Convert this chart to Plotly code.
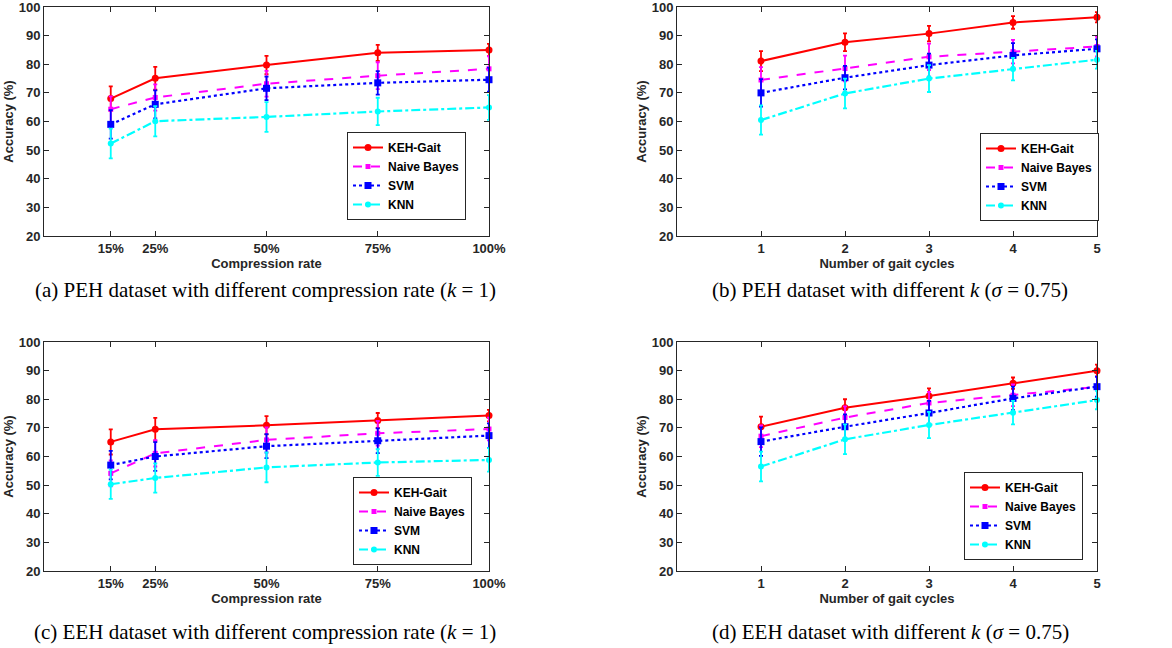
import plotly.graph_objects as go

# ---------------- data ----------------
rate_x = [15, 25, 50, 75, 100]
rate_labels = ["15%", "25%", "50%", "75%", "100%"]
cycles_x = [1, 2, 3, 4, 5]
cycles_labels = ["1", "2", "3", "4", "5"]
y_ticks = [20, 30, 40, 50, 60, 70, 80, 90, 100]

series_names = ["KEH-Gait", "Naive Bayes", "SVM", "KNN"]

# (a) PEH, compression rate
a_keh = [68.0, 75.1, 79.7, 84.0, 85.0]
a_keh_err = [4.3, 4.0, 3.2, 2.8, 2.1]
a_nb = [64.3, 68.4, 73.2, 76.0, 78.4]
a_nb_err = [4.5, 4.6, 4.5, 4.7, 4.4]
a_svm = [59.0, 66.0, 71.6, 73.5, 74.6]
a_svm_err = [5.0, 4.9, 4.1, 4.1, 4.2]
a_knn = [52.3, 60.1, 61.6, 63.5, 64.9]
a_knn_err = [5.2, 5.3, 5.2, 4.8, 4.3]

# (b) PEH, gait cycles
b_keh = [81.1, 87.7, 90.7, 94.6, 96.4]
b_keh_err = [3.5, 3.1, 2.7, 2.2, 1.8]
b_nb = [74.5, 78.5, 82.6, 84.4, 86.2]
b_nb_err = [4.5, 4.5, 4.6, 4.1, 3.5]
b_svm = [70.0, 75.3, 79.7, 83.1, 85.4]
b_svm_err = [4.8, 4.1, 4.0, 4.3, 3.3]
b_knn = [60.5, 69.8, 75.0, 78.3, 81.6]
b_knn_err = [5.1, 5.2, 4.7, 3.9, 3.1]

# (c) EEH, compression rate
c_keh = [65.1, 69.5, 70.9, 72.6, 74.3]
c_keh_err = [4.4, 4.0, 3.2, 2.6, 2.0]
c_nb = [54.1, 61.1, 65.8, 68.1, 69.6]
c_nb_err = [4.5, 4.6, 4.4, 4.3, 4.0]
c_svm = [57.0, 60.0, 63.6, 65.5, 67.3]
c_svm_err = [5.0, 5.0, 4.2, 4.3, 4.3]
c_knn = [50.3, 52.5, 56.2, 57.9, 58.8]
c_knn_err = [5.1, 5.1, 5.2, 4.7, 4.1]

# (d) EEH, gait cycles
d_keh = [70.4, 77.0, 81.1, 85.6, 90.0]
d_keh_err = [3.5, 3.0, 2.7, 2.0, 2.1]
d_nb = [67.1, 73.6, 78.7, 81.4, 84.3]
d_nb_err = [3.8, 3.9, 3.9, 3.8, 3.6]
d_svm = [65.2, 70.4, 75.2, 80.3, 84.4]
d_svm_err = [5.0, 4.3, 4.2, 4.1, 3.5]
d_knn = [56.5, 66.0, 71.0, 75.3, 79.7]
d_knn_err = [5.2, 5.2, 4.6, 4.1, 3.2]

captions = [
    "(a) PEH dataset with different compression rate (<i>k</i> = 1)",
    "(b) PEH dataset with different <i>k</i> (<i>σ</i> = 0.75)",
    "(c) EEH dataset with different compression rate (<i>k</i> = 1)",
    "(d) EEH dataset with different <i>k</i> (<i>σ</i> = 0.75)",
]

# ---------------- styling ----------------
W, H = 1172, 648
colors = ["#ff0000", "#ff00ff", "#0000ff", "#00ffff"]
dashes = ["solid", "dash", "dot", "dashdot"]
symbols = ["circle", "square", "square", "circle"]
msizes = [7, 5, 7, 6]
AX = "#262626"
SANS = "Liberation Sans, Arial, sans-serif"
SERIF = "Liberation Serif, Times New Roman, serif"

def px_x(p):
    return p / W

def px_y(p):
    return 1 - p / H

panels = [
    dict(x=rate_x, tv=rate_x, tt=rate_labels, xr=[0, 100], title="Compression rate",
         data=[(a_keh, a_keh_err), (a_nb, a_nb_err), (a_svm, a_svm_err), (a_knn, a_knn_err)],
         xd=(44, 489), yd=(7, 236), leg=(466, 176), cap=(265, 290)),
    dict(x=cycles_x, tv=cycles_x, tt=cycles_labels, xr=[0, 5], title="Number of gait cycles",
         data=[(b_keh, b_keh_err), (b_nb, b_nb_err), (b_svm, b_svm_err), (b_knn, b_knn_err)],
         xd=(677, 1097), yd=(7, 236), leg=(1099, 177), cap=(890, 290)),
    dict(x=rate_x, tv=rate_x, tt=rate_labels, xr=[0, 100], title="Compression rate",
         data=[(c_keh, c_keh_err), (c_nb, c_nb_err), (c_svm, c_svm_err), (c_knn, c_knn_err)],
         xd=(44, 489), yd=(342, 571), leg=(472, 521), cap=(265, 632)),
    dict(x=cycles_x, tv=cycles_x, tt=cycles_labels, xr=[0, 5], title="Number of gait cycles",
         data=[(d_keh, d_keh_err), (d_nb, d_nb_err), (d_svm, d_svm_err), (d_knn, d_knn_err)],
         xd=(677, 1097), yd=(342, 571), leg=(1083, 516), cap=(890, 632)),
]

fig = go.Figure()
layout = dict(
    width=W, height=H, margin=dict(l=0, r=0, t=0, b=0, autoexpand=False),
    paper_bgcolor="white", plot_bgcolor="white", showlegend=True,
    annotations=[],
)

for i, p in enumerate(panels):
    n = "" if i == 0 else str(i + 1)
    xa, ya = "x" + n, "y" + n
    legname = "legend" + n
    for j, (vals, errs) in enumerate(p["data"]):
        fig.add_trace(go.Scatter(
            x=p["x"], y=vals, xaxis=xa, yaxis=ya, name=series_names[j],
            mode="lines+markers", legend=legname, cliponaxis=False,
            line=dict(color=colors[j], dash=dashes[j], width=2 if j < 2 else 2.2),
            marker=dict(symbol=symbols[j], size=msizes[j], color=colors[j]),
            error_y=dict(type="data", array=errs, visible=True, color=colors[j],
                         thickness=1.8, width=2),
        ))
    common = dict(showline=True, linecolor=AX, linewidth=1, mirror="ticks",
                  ticks="inside", ticklen=5, tickcolor=AX, tickwidth=1,
                  showgrid=False, zeroline=False, automargin=False,
                  ticklabeloverflow="allow",
                  tickfont=dict(family=SANS, size=13, color=AX, weight="bold"))
    layout["xaxis" + n] = dict(
        domain=[px_x(p["xd"][0]), px_x(p["xd"][1])], anchor=ya, range=p["xr"],
        tickvals=p["tv"], ticktext=["<b>%s</b>" % t for t in p["tt"]],
        title=dict(text="<b>%s</b>" % p["title"],
                   font=dict(family=SANS, size=13, color=AX, weight="bold"),
                   standoff=3),
        **common)
    layout["yaxis" + n] = dict(
        domain=[px_y(p["yd"][1]), px_y(p["yd"][0])], anchor=xa, range=[20, 100],
        tickvals=y_ticks, ticktext=["<b>%d</b>" % v for v in y_ticks],
        title=dict(text="<b>Accuracy (%)</b>",
                   font=dict(family=SANS, size=13, color=AX, weight="bold"),
                   standoff=2),
        **common)
    layout[legname] = dict(
        x=px_x(p["leg"][0]), y=px_y(p["leg"][1]), xanchor="right", yanchor="middle",
        bgcolor="white", bordercolor=AX, borderwidth=1, itemwidth=30,
        font=dict(family=SANS, size=12, color="black", weight="bold"),
        tracegroupgap=0,
    )
    layout["annotations"].append(dict(
        text=captions[i], x=px_x(p["cap"][0]), y=px_y(p["cap"][1]),
        xref="paper", yref="paper", xanchor="center", yanchor="middle",
        showarrow=False, font=dict(family=SERIF, size=21, color="black"),
    ))

fig.update_layout(**layout)
fig.write_html(
    "out.html",
    config={"displayModeBar": False, "responsive": False},
    post_script="document.body.style.margin='0';document.body.style.overflow='hidden';",
)
